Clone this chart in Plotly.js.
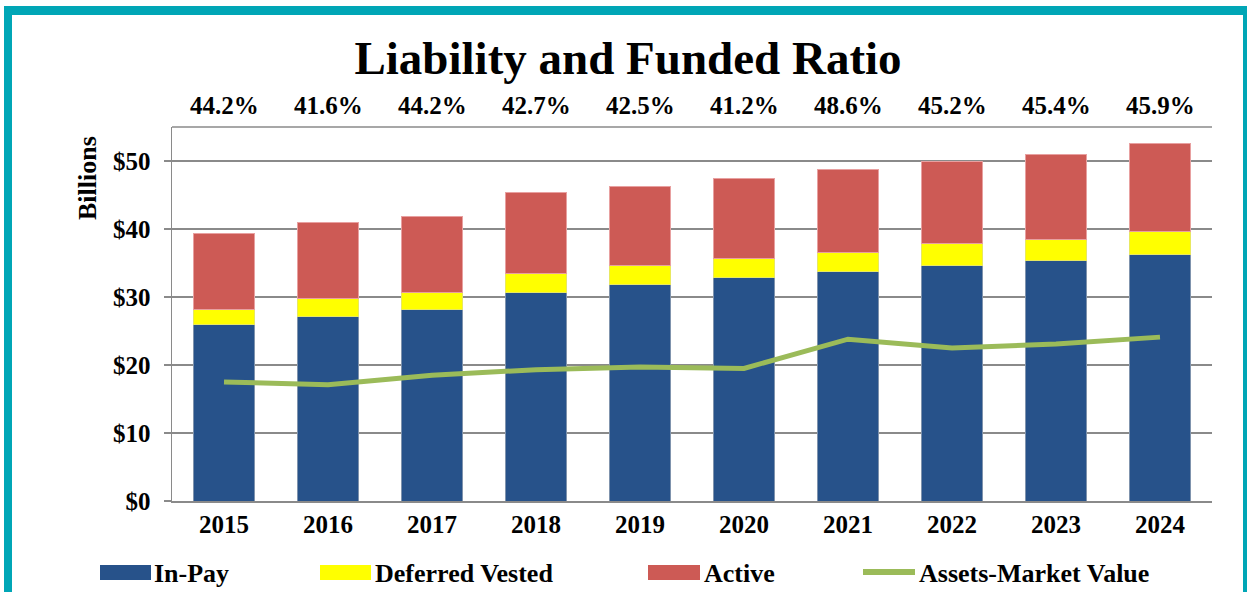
<!DOCTYPE html>
<html>
<head>
<meta charset="utf-8">
<script src="https://cdn.plot.ly/plotly-3.0.1.min.js"></script>
<style>html,body{margin:0;padding:0;background:#fff;overflow:hidden}#chart{width:1247px;height:592px}</style>
</head>
<body>
<div id="chart"></div>
<script>
var years = ['2015','2016','2017','2018','2019','2020','2021','2022','2023','2024'];
var inPay = [25.9, 27.2, 28.1, 30.6, 31.9, 32.8, 33.7, 34.6, 35.3, 36.2];
var deferredVested = [2.3, 2.6, 2.6, 2.9, 2.8, 2.9, 2.9, 3.2, 3.2, 3.4];
var active = [11.2, 11.1, 11.1, 11.8, 11.6, 11.8, 12.2, 12.1, 12.4, 13.0];
var assets = [17.5, 17.1, 18.5, 19.3, 19.7, 19.5, 23.8, 22.5, 23.1, 24.1];
var fundedRatio = ['44.2%','41.6%','44.2%','42.7%','42.5%','41.2%','48.6%','45.2%','45.4%','45.9%'];
var yTicks = [0, 10, 20, 30, 40, 50];
var yTickText = ['$0', '$10', '$20', '$30', '$40', '$50'];
var legendNames = ['In-Pay', 'Deferred Vested', 'Active', 'Assets-Market Value'];

var C_BLUE = '#27528A', C_YEL = '#FFFF00', C_RED = '#CD5A55', C_GRN = '#9BBB59', C_TEAL = '#00A6B6';
var W = 1247, H = 592, L = 172, R = 35, T = 127, B = 91;
var PW = W - L - R, PH = H - T - B;
function px(x) { return (x - L) / PW; }
function py(y) { return (H - B - y) / PH; }
var serif = 'Liberation Serif, Times New Roman, serif';

var traces = [
  {type:'bar', x:years, y:inPay, name:legendNames[0], marker:{color:C_BLUE, line:{color:'#7f93ad', width:1}}, hoverinfo:'skip'},
  {type:'bar', x:years, y:deferredVested, name:legendNames[1], marker:{color:C_YEL, line:{color:'#e8e860', width:1}}, hoverinfo:'skip'},
  {type:'bar', x:years, y:active, name:legendNames[2], marker:{color:C_RED, line:{color:'#e8a0a0', width:1}}, hoverinfo:'skip'},
  {type:'scatter', mode:'lines', x:years, y:assets, name:legendNames[3], line:{color:C_GRN, width:5}, hoverinfo:'skip'}
];

var annotations = [];
years.forEach(function (yr, i) {
  annotations.push({xref:'x', yref:'paper', x:i, y:py(105), text:fundedRatio[i], showarrow:false,
    xanchor:'center', yanchor:'middle', font:{family:serif, size:25, weight:'bold', color:'#000'}});
});
annotations.push({xref:'paper', yref:'paper', x:px(87), y:py(178), text:'Billions', textangle:-90, showarrow:false,
  xanchor:'center', yanchor:'middle', font:{family:serif, size:26, weight:'bold', color:'#000'}});

var shapes = [];
shapes.push({type:'line', xref:'paper', yref:'paper', x0:0, x1:1, y0:1, y1:1, line:{color:'#8a8a8a', width:1.5}});
shapes.push({type:'rect', xref:'paper', yref:'paper', x0:px(4), x1:px(12), y0:py(6), y1:py(600), fillcolor:C_TEAL, line:{width:0}, layer:'above'});
shapes.push({type:'rect', xref:'paper', yref:'paper', x0:px(4), x1:px(1260), y0:py(6), y1:py(15), fillcolor:C_TEAL, line:{width:0}, layer:'above'});
shapes.push({type:'rect', xref:'paper', yref:'paper', x0:px(1243), x1:px(1260), y0:py(6), y1:py(600), fillcolor:C_TEAL, line:{width:0}, layer:'above'});

var legItems = [
  {x0:100, x1:151, tx:152, color:C_BLUE, kind:'rect'},
  {x0:320, x1:371, tx:373, color:C_YEL, kind:'rect'},
  {x0:648, x1:700, tx:702, color:C_RED, kind:'rect'},
  {x0:863, x1:915, tx:917, color:C_GRN, kind:'line'}
];
legItems.forEach(function (it, i) {
  if (it.kind === 'rect') {
    shapes.push({type:'rect', xref:'paper', yref:'paper', x0:px(it.x0), x1:px(it.x1), y0:py(565), y1:py(580), fillcolor:it.color, line:{width:0}});
  } else {
    shapes.push({type:'line', xref:'paper', yref:'paper', x0:px(it.x0), x1:px(it.x1), y0:py(572), y1:py(572), line:{color:it.color, width:6}});
  }
  annotations.push({xref:'paper', yref:'paper', x:px(it.tx), y:py(573), text:legendNames[i], showarrow:false,
    xanchor:'left', yanchor:'middle', font:{family:serif, size:26, weight:'bold', color:'#000'}});
});

var layout = {
  width:W, height:H,
  margin:{l:L, r:R, t:T, b:B, pad:0},
  paper_bgcolor:'#fff', plot_bgcolor:'#fff',
  barmode:'stack', bargap:0.42,
  showlegend:false,
  title:{text:'Liability and Funded Ratio', x:628/W, xanchor:'center', xref:'container', y:1-58/H, yanchor:'middle', yref:'container',
    font:{family:serif, size:47, weight:'bold', color:'#000'}},
  xaxis:{type:'category', range:[-0.5, 9.5], autorange:false, showgrid:false, showline:true, linecolor:'#8a8a8a', linewidth:1.5, ticks:'',
    tickfont:{family:serif, size:25, weight:'bold', color:'#000'}, fixedrange:true},
  yaxis:{range:[0,55], autorange:false, tickmode:'array', tickvals:yTicks, ticktext:yTickText, showgrid:true, gridcolor:'#8a8a8a', gridwidth:1.5,
    showline:true, linecolor:'#8a8a8a', linewidth:1.5, ticks:'outside', ticklen:7, tickcolor:'#8a8a8a', tickwidth:1.5,
    zeroline:false, ticklabelstandoff:8, tickfont:{family:serif, size:25, weight:'bold', color:'#000'}, fixedrange:true},
  annotations:annotations,
  shapes:shapes
};

Plotly.newPlot('chart', traces, layout, {displayModeBar:false, staticPlot:true});
</script>
</body>
</html>
